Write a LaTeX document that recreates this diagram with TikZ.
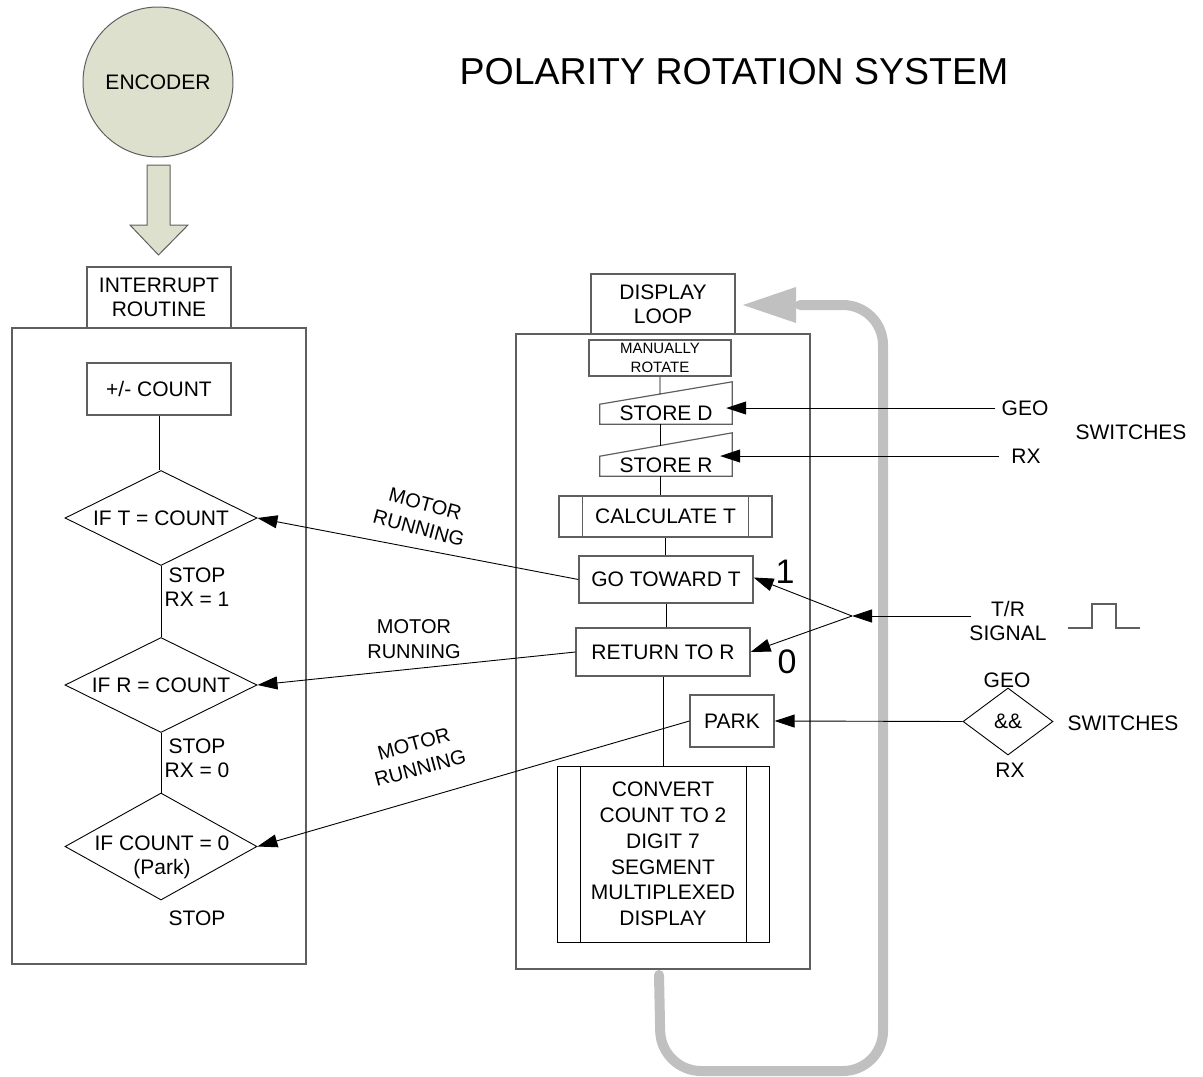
\documentclass[tikz,border=0pt]{standalone}
\usepackage{fontspec}
\setmainfont{Liberation Sans}
\usetikzlibrary{arrows.meta,shapes.geometric,calc}
\definecolor{encfill}{RGB}{220,224,204}
\definecolor{loopgray}{RGB}{192,192,192}
\definecolor{boxline}{RGB}{95,95,95}
\begin{document}
\begin{tikzpicture}[x=1pt,y=-1pt,
  txt/.style={font=\fontsize{21}{24}\selectfont, align=center, inner sep=0pt},
  box/.style={txt, draw=boxline, line width=1.2pt, rectangle},
  cont/.style={draw=boxline, line width=1.3pt, rectangle, inner sep=0pt},
  dia/.style={txt, draw=black, line width=0.9pt, shape=diamond, aspect=2},
  conn/.style={draw=black, line width=0.9pt},
  arr/.style={conn, -{Triangle[length=20pt,width=13pt]}},
  rotlabel/.style={txt, font=\fontsize{20}{25}\selectfont}
]
\useasboundingbox (0,0) rectangle (1203,1077);

% gray loop (background)
\draw[loopgray, line width=10pt, line cap=round, rounded corners=40pt]
  (659,975) -- (661,1071) -- (883,1071) -- (883,305) -- (800,305);
\fill[loopgray] (796,287) -- (743,305) -- (796,323) -- cycle;

% title
\node[font=\fontsize{37.5}{40}\selectfont, inner sep=0pt] (title) at (734,72) {POLARITY ROTATION SYSTEM};

% encoder
\node[circle, draw=boxline, line width=1pt, fill=encfill, minimum size=150pt, inner sep=0pt, txt] (enc) at (158,82) {ENCODER};
\draw[draw=boxline, line width=1pt, fill=encfill]
  (147,165) -- (170,165) -- (170,225) -- (188,225) -- (158.5,255) -- (130,225) -- (147,225) -- cycle;

% left column
\node[cont, minimum width=294pt, minimum height=636pt] (leftc) at (159,646) {};
\node[box, minimum width=144pt, minimum height=61pt, fill=white] (intr) at (159,297.5) {INTERRUPT\\ROUTINE};
\node[box, minimum width=144pt, minimum height=52pt] (cnt) at (159,389) {+/- COUNT};
\node[dia, minimum width=192pt, minimum height=95pt] (d1) at (161,518) {IF T = COUNT};
\node[dia, minimum width=192pt, minimum height=95pt] (d2) at (161,685) {IF R = COUNT};
\node[dia, minimum width=192pt, minimum height=107pt] (d3) at (161,846.5) {};
\node[txt] (d3t) at (162,857.5) {IF COUNT = 0\\(Park)};
\node[txt] (stop1) at (197,587.5) {STOP\\RX = 1};
\node[txt] (stop2) at (197,758) {STOP\\RX = 0};
\node[txt] (stop3) at (197,918) {STOP};

\draw[conn] (cnt.south) -- (cnt.south |- d1.north);
\draw[conn] (d1.south) -- (d2.north);
\draw[conn] (d2.south) -- (d3.north);

% right column
\node[cont, minimum width=294pt, minimum height=635pt] (rightc) at (663,651.5) {};
\node[box, minimum width=144pt, minimum height=60pt, fill=white] (disp) at (663,304) {DISPLAY\\LOOP};
\node[box, minimum width=142pt, minimum height=36pt, font=\fontsize{15}{19}\selectfont] (man) at (660,358) {MANUALLY\\ROTATE};

\node[inner sep=0pt, minimum width=132pt, minimum height=42pt] (sD) at (666,403) {};
\draw[draw=boxline, line width=1.2pt] (sD.south west) -- ++(0,-20) coordinate (sDtl) -- (sD.north east) -- (sD.south east) -- cycle;
\node[txt] (sDt) at (666,413) {STORE D};

\node[inner sep=0pt, minimum width=132pt, minimum height=43pt] (sR) at (666,454.5) {};
\draw[draw=boxline, line width=1.2pt] (sR.south west) -- ++(0,-20) coordinate (sRtl) -- (sR.north east) -- (sR.south east) -- cycle;
\node[txt] (sRt) at (666,465) {STORE R};

\node[box, minimum width=213pt, minimum height=41pt] (calc) at (665.5,516.5) {CALCULATE T};
\draw[draw=boxline, line width=1.2pt] ($(calc.north west)+(24,0)$) -- ($(calc.south west)+(24,0)$);
\draw[draw=boxline, line width=1.2pt] ($(calc.north east)+(-24,0)$) -- ($(calc.south east)+(-24,0)$);

\node[box, minimum width=174pt, minimum height=47pt] (go) at (666,579.5) {GO TOWARD T};
\node[box, minimum width=174pt, minimum height=48pt] (ret) at (663,652) {RETURN TO R};
\node[box, minimum width=84pt, minimum height=52pt] (park) at (732,721) {PARK};

\node[box, draw=black, line width=1pt, minimum width=212pt, minimum height=176pt, font=\fontsize{21}{25.8}\selectfont] (conv) at (663,854) {CONVERT\\COUNT TO 2\\DIGIT 7\\SEGMENT\\MULTIPLEXED\\DISPLAY};
\draw[black, line width=1pt] ($(conv.north west)+(24,0)$) -- ($(conv.south west)+(24,0)$);
\draw[black, line width=1pt] ($(conv.north east)+(-23,0)$) -- ($(conv.south east)+(-23,0)$);

% vertical connectors right column
\coordinate (sDb) at ($(sD.south west)!0.4545!(sD.south east)$);
\coordinate (sRb) at ($(sR.south west)!0.4545!(sR.south east)$);
\draw[conn] (man.south) -- ($(sDtl)!0.4545!(sD.north east)$);
\draw[conn] (sDb) -- ($(sRtl)!0.4545!(sR.north east)$);
\draw[conn] (sRb) -- (sRb |- calc.north);
\draw[conn] (calc.south) -- (calc.south |- go.north);
\draw[conn] (go.south) -- (go.south |- ret.north);
\draw[conn] (ret.south) -- (ret.south |- conv.north);

% switch inputs
\node[txt] (geo1) at (1025,408) {GEO};
\node[txt] (rx1) at (1026,456) {RX};
\node[txt] (sw1) at (1131,432) {SWITCHES};
\draw[arr] ([xshift=-6pt]geo1.west) -- ([xshift=-6pt]geo1.west -| sD.east);
\draw[arr] ([xshift=-12pt]rx1.west) -- ([xshift=-12pt]rx1.west -| sR.east);

% T/R signal
\node[txt] (trs) at (1008,621) {T/R\\SIGNAL};
\coordinate (j) at (852,616);
\draw[arr] (trs.west |- j) ++(2,0) -- (j);
\draw[arr] (j) -- ([yshift=2pt]go.east);
\draw[arr] (j) -- (ret.east);
\draw[draw=boxline, line width=1.2pt] (1068,628) -- (1092,628) -- (1092,604) -- (1116,604) -- (1116,628) -- (1140,628);
\node[font=\fontsize{34}{34}\selectfont, inner sep=0pt] (one) at (785,572) {1};
\node[font=\fontsize{34}{34}\selectfont, inner sep=0pt] (zero) at (787,662) {0};

% && gate
\node[dia, minimum width=90pt, minimum height=67pt, aspect=1.3] (andg) at (1008,721.5) {\&\&};
\node[txt] (geo2) at (1007,680) {GEO};
\node[txt] (rx2) at (1010,770) {RX};
\node[txt] (sw2) at (1123,723) {SWITCHES};
\draw[arr] (andg.west) -- (park.east);

% motor running connectors
\draw[arr] (go.west) -- (d1.east);
\draw[arr] (ret.west) -- (d2.east);
\draw[arr] (park.west) -- (d3.east);
\node[rotlabel, rotate=-15] (m1) at (422,516) {MOTOR\\RUNNING};
\node[rotlabel] (m2) at (414,639) {MOTOR\\RUNNING};
\node[rotlabel, rotate=15] (m3) at (417,756) {MOTOR\\RUNNING};
\end{tikzpicture}
\end{document}
